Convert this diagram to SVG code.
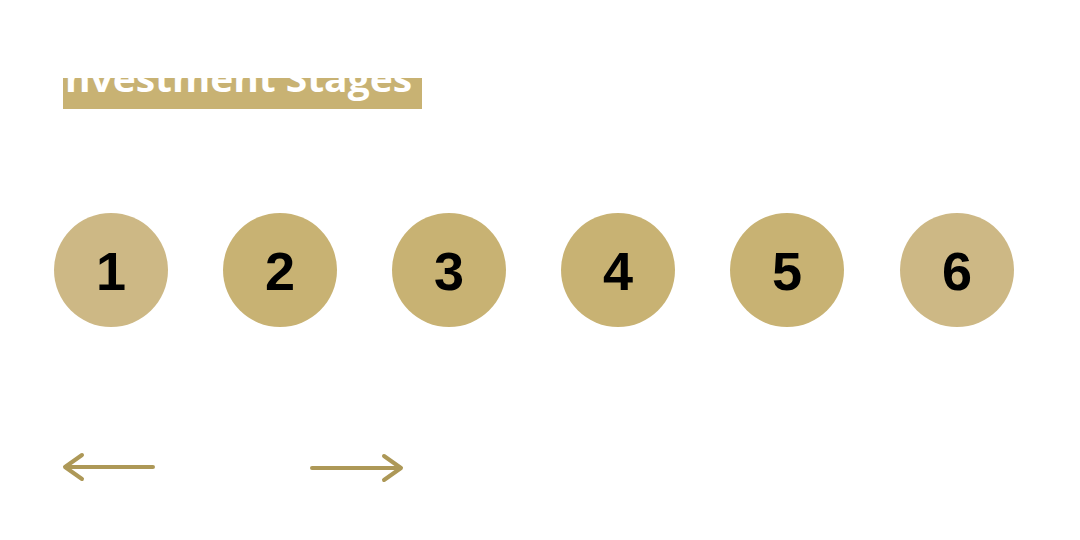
<svg xmlns="http://www.w3.org/2000/svg" width="1080" height="540" viewBox="0 0 1080 540">
<style>
.c{fill:#c8b273}.cl{fill:#cdb885}
.n{font-family:"Liberation Sans",Arial,sans-serif;font-weight:bold;font-size:54px;fill:#000;text-anchor:middle}
.a{stroke:#ad9857;stroke-width:4;fill:none;stroke-linecap:round;stroke-linejoin:round}
</style>
<rect width="1080" height="540" fill="#fff"/>
<g id="title">
<rect x="63" y="78" width="359" height="31" fill="#c8b273"/>
<text x="52" y="92" font-family="'Open Sans',sans-serif" font-weight="bold" font-size="36" fill="#fff" textLength="360" lengthAdjust="spacingAndGlyphs">Investment Stages</text>
<rect x="0" y="0" width="1080" height="78" fill="#fff"/>
<rect x="40" y="78" width="23" height="31" fill="#fff"/>
</g>
<g id="n1"><circle class="cl" cx="111" cy="270" r="57"/><text class="n" x="111" y="290">1</text></g>
<g id="n2"><circle class="c" cx="280" cy="270" r="57"/><text class="n" x="280" y="290">2</text></g>
<g id="n3"><circle class="c" cx="449" cy="270" r="57"/><text class="n" x="449" y="290">3</text></g>
<g id="n4"><circle class="c" cx="618" cy="270" r="57"/><text class="n" x="618" y="290">4</text></g>
<g id="n5"><circle class="c" cx="787" cy="270" r="57"/><text class="n" x="787" y="290">5</text></g>
<g id="n6"><circle class="cl" cx="957" cy="270" r="57"/><text class="n" x="957" y="290">6</text></g>
<g id="connectors">
<path class="a" d="M153 467H65M82 455L65 467L82 479"/>
<path class="a" d="M312 468H401M384 456L401 468L384 480"/>
</g>
</svg>
